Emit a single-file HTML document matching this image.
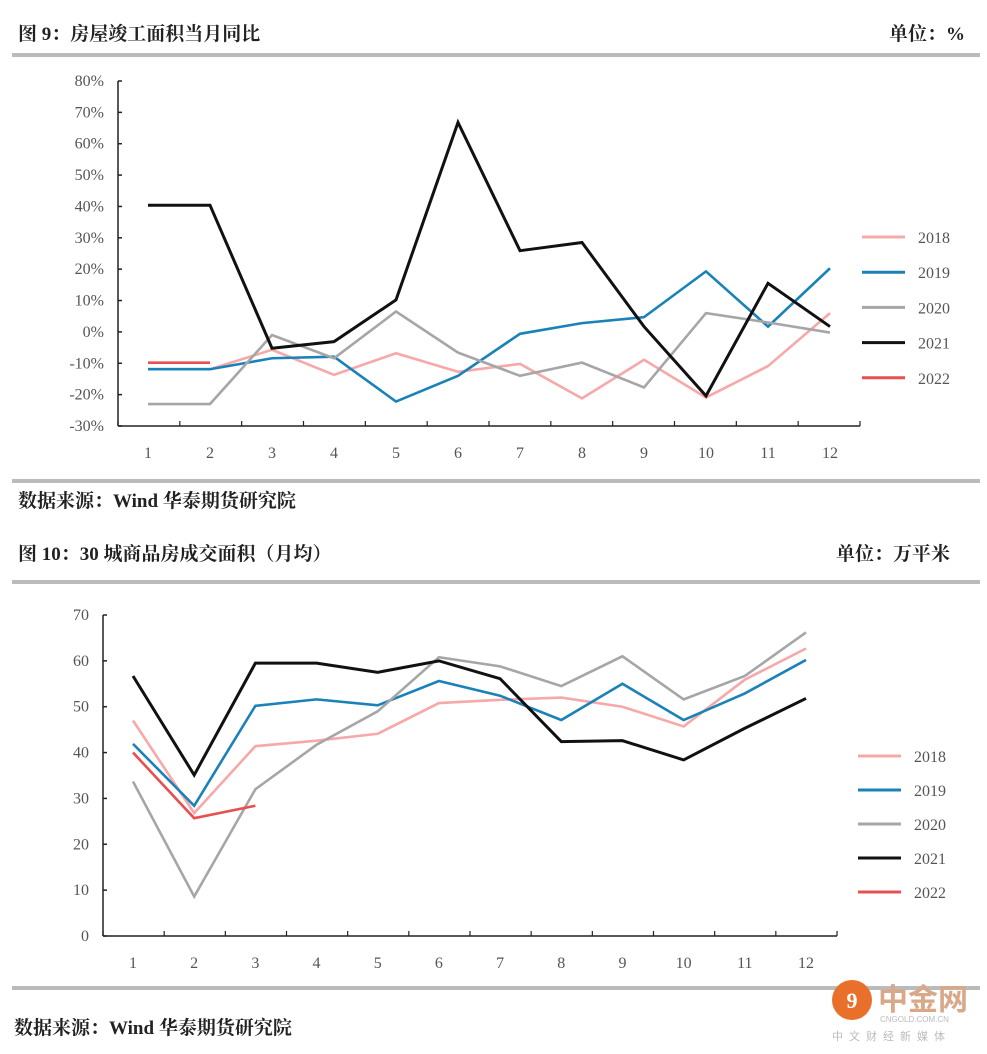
<!DOCTYPE html>
<html><head><meta charset="utf-8">
<style>
body{margin:0;background:#fff;width:987px;height:1049px;overflow:hidden;font-family:"Liberation Serif","Noto Serif CJK SC",serif;}
svg text{font-family:"Liberation Serif","Noto Serif CJK SC",serif;}
.t{font-family:"Liberation Serif","Noto Serif CJK SC",serif;font-weight:bold;font-size:19px;fill:#222}
.tk{font-size:16px;fill:#555}
</style></head><body>
<svg id="s" width="987" height="1049" xmlns="http://www.w3.org/2000/svg">
<text class="t" x="18" y="40">图 9：房屋竣工面积当月同比</text>
<text class="t" x="965" y="40" text-anchor="end">单位：%</text>
<rect x="12" y="53" width="968" height="4" fill="#bbb"/>
<rect x="12" y="479" width="968" height="4" fill="#bbb"/>
<text class="t" x="18" y="507">数据来源：Wind  华泰期货研究院</text>
<text class="t" x="18" y="560">图 10：30 城商品房成交面积（月均）</text>
<text class="t" x="950" y="560" text-anchor="end">单位：万平米</text>
<rect x="12" y="580" width="968" height="4" fill="#bbb"/>
<rect x="12" y="986" width="968" height="4" fill="#bbb"/>
<text class="t" x="14" y="1034">数据来源：Wind  华泰期货研究院</text>
<g>
<circle cx="852" cy="1000" r="20" fill="#e8702a"/>
<text x="852" y="1008" text-anchor="middle" font-size="22" fill="#fff" font-weight="bold">9</text>
<text x="878" y="1010" font-size="30" fill="#d9a889" font-weight="bold" style="font-family:'Noto Sans CJK SC',sans-serif">中金网</text>
<text x="880" y="1022" font-size="8" fill="#bbb" style="font-family:'Liberation Sans',sans-serif">CNGOLD.COM.CN</text>
<text x="832" y="1040" font-size="11" fill="#bbb" letter-spacing="6" style="font-family:'Noto Sans CJK SC',sans-serif">中文财经新媒体</text>
</g>
<g id="c1"></g>
<g id="c2"></g>
</svg>
<script>
const months=['1','2','3','4','5','6','7','8','9','10','11','12'];
const seriesNames=['2018','2019','2020','2021','2022'];
const colors=['#f7a8a8','#1a82b8','#a6a6a6','#111111','#e8504f'];
const c1Ticks=[80,70,60,50,40,30,20,10,0,-10,-20,-30];
const c1s2018=[-11.9,-11.9,-5.7,-13.7,-6.8,-12.7,-10.2,-21.2,-8.9,-20.9,-10.9,6];
const c1s2019=[-11.9,-11.9,-8.4,-7.9,-22.2,-14,-0.6,2.8,4.7,19.3,1.7,20.3];
const c1s2020=[-23,-23,-1,-8.4,6.5,-6.6,-14,-9.8,-17.7,6,3,-0.2];
const c1s2021=[40.4,40.4,-5.2,-3.1,10.2,66.8,25.9,28.5,1.7,-20.4,15.5,1.7];
const c1s2022=[-9.8,-9.8];
const c2Ticks=[70,60,50,40,30,20,10,0];
const c2s2018=[47,26.8,41.4,42.6,44.1,50.8,51.5,52,50,45.7,55.9,62.7];
const c2s2019=[41.9,28.4,50.2,51.6,50.3,55.6,52.4,47.1,55,47.1,52.9,60.2];
const c2s2020=[33.7,8.6,32,41.7,49,60.8,58.8,54.5,61,51.6,56.7,66.2];
const c2s2021=[56.7,35.1,59.5,59.5,57.5,60,56.1,42.4,42.6,38.4,45.3,51.8];
const c2s2022=[40,25.7,28.4];
const NS='http://www.w3.org/2000/svg';
function mk(p,tag,a){const e=document.createElementNS(NS,tag);for(const k in a)e.setAttribute(k,a[k]);p.appendChild(e);return e;}
function draw(g,o){
 const x=i=>o.x0+i*(o.x1-o.x0)/11;
 const y=v=>o.yb+(v-o.vmin)*(o.yt-o.yb)/(o.vmax-o.vmin);
 const ax=mk(g,'line',{x1:o.ax,y1:y(o.vmax),x2:o.ax,y2:o.yb,stroke:'#222','stroke-width':1.5});
 
 
 const bx=mk(g,'line',{x1:o.ax,y1:o.yb,x2:o.xr,y2:o.yb,stroke:'#222','stroke-width':1.5});
 
 
 o.ticks.forEach(t=>{
  const l=mk(g,'line',{x1:o.ax,y1:y(t),x2:o.ax+4,y2:y(t),stroke:'#222','stroke-width':1.5});
  
  
  const tx=mk(g,'text',{x:o.ax-14,y:y(t)+5,'text-anchor':'end',class:'tk'});
  tx.textContent=t+o.suf;
  
  
 });
 const step=(o.x1-o.x0)/11;
 for(let i=0;i<=12;i++){
  const xx=o.ax+i*(o.xr-o.ax)/12;
  const l=mk(g,'line',{x1:xx,y1:o.yb,x2:xx,y2:o.yb-5,stroke:'#222','stroke-width':1.2});
  
  
 }
 months.forEach((m,i)=>{
  const tx=mk(g,'text',{x:x(i),y:o.yb+32,'text-anchor':'middle',class:'tk'});
  tx.textContent=m;
  
  
 });
 o.data.forEach((d,si)=>{
  const p=mk(g,'polyline',{points:d.map((v,i)=>x(i)+','+y(v)).join(' '),fill:'none',stroke:colors[si],'stroke-width':si==3?3:2.6,'stroke-linejoin':'miter'});
  
  
 });
 [0,1,2,4].forEach(si=>{});
 seriesNames.forEach((n,si)=>{
  const ly=o.ly+si*o.lg;
  const l=mk(g,'line',{x1:o.lx,y1:ly,x2:o.lx+43,y2:ly,stroke:colors[si],'stroke-width':3});
  
  
  const t=mk(g,'text',{x:o.lx+56,y:ly+6,class:'tk'});
  t.textContent=n;
  
  
 });
}
draw(document.getElementById('c1'),{x0:148,x1:830,ax:118,xr:860,yb:426,yt:81,vmin:-30,vmax:80,ticks:c1Ticks,suf:'%',
 data:[c1s2018,c1s2019,c1s2020,c1s2021,c1s2022],lx:862,ly:237,lg:35.2});
draw(document.getElementById('c2'),{x0:133,x1:806,ax:103,xr:837,yb:936,yt:615,vmin:0,vmax:70,ticks:c2Ticks,suf:'',
 data:[c2s2018,c2s2019,c2s2020,c2s2021,c2s2022],lx:858,ly:756,lg:34});
</script>
</body></html>
